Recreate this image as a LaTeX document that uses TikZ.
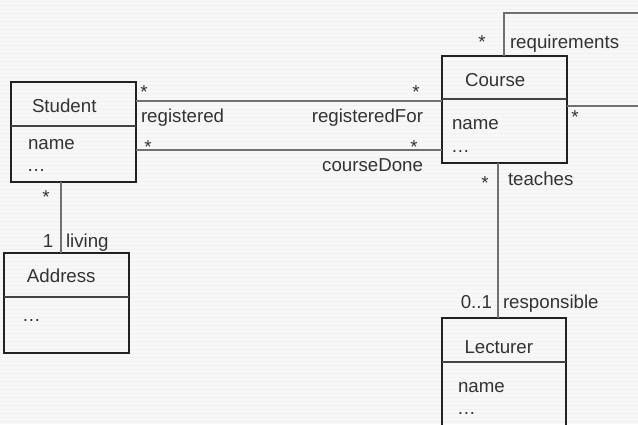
\documentclass[tikz,border=0pt]{standalone}
\usepackage{fontspec}
\setmainfont{Liberation Sans}
\definecolor{bg}{HTML}{F7F7F7}
\definecolor{stripe}{HTML}{F2F2F2}
\definecolor{txt}{HTML}{333333}
\definecolor{boxline}{HTML}{222222}
\definecolor{divline}{HTML}{444444}
\definecolor{connline}{HTML}{707070}
\tikzset{
  cls/.style={draw=boxline, line width=1.3pt, rectangle, inner sep=0pt, outer sep=0pt, minimum width=125pt},
  divider/.style={draw=divline, line width=1.2pt},
  conn/.style={draw=connline, line width=1.3pt},
  lbl/.style={inner sep=0pt, outer sep=0pt, text=txt, font=\fontsize{18.7}{22}\selectfont},
}
\begin{document}
\begin{tikzpicture}[x=1pt,y=-1pt]
\useasboundingbox (0,0) rectangle (638,424);
\clip (0,0) rectangle (638,424);
\fill[bg] (0,0) rectangle (638,424);
\foreach \yy in {1,5,...,423} \draw[stripe, line width=1pt] (0,\yy) -- (638,\yy);

% class boxes
\node[cls, minimum height=100pt] (Student) at (73.5,132) {};
\node[cls, minimum height=107pt] (Course) at (504.5,109.5) {};
\node[cls, minimum height=100pt] (Address) at (66.5,303) {};
\node[cls, minimum width=124pt, minimum height=112pt] (Lecturer) at (504,374) {};

\draw[divider] (Student.west |- 0,126) -- (Student.east |- 0,126);
\draw[divider] (Course.west |- 0,99) -- (Course.east |- 0,99);
\draw[divider] (Address.west |- 0,297) -- (Address.east |- 0,297);
\draw[divider] (Lecturer.west |- 0,362) -- (Lecturer.east |- 0,362);

% connectors
\draw[conn] (Student.east |- 0,101) -- (Course.west |- 0,101);
\draw[conn] (Student.east |- 0,150) -- (Course.west |- 0,150);
\draw[conn] (Student.south -| 61,0) -- (Address.north -| 61,0);
\draw[conn] (Course.south -| 498,0) -- (Lecturer.north -| 498,0);
\draw[conn] (Course.north -| 504,0) |- (660,13) |- (Course.east |- 0,106);

% box texts
\node[lbl, anchor=base west] (tStudent) at (32,112) {Student};
\node[lbl, anchor=base west] (tStudentA) at (28,149) {name};
\node[lbl, anchor=base west] (tStudentB) at (27,171) {…};
\node[lbl, anchor=base west] (tCourse) at (465,86) {Course};
\node[lbl, anchor=base west] (tCourseA) at (452,129) {name};
\node[lbl, anchor=base west] (tCourseB) at (451,152) {…};
\node[lbl, anchor=base west] (tAddress) at (27,282) {Address};
\node[lbl, anchor=base west] (tAddressB) at (22,321) {…};
\node[lbl, anchor=base west] (tLecturer) at (464.5,353) {Lecturer};
\node[lbl, anchor=base west] (tLecturerA) at (458,392) {name};
\node[lbl, anchor=base west] (tLecturerB) at (457,414) {…};

% association labels
\node[lbl, anchor=base] (m1) at (144,98) {*};
\node[lbl, anchor=base west] (r1) at (141,122) {registered};
\node[lbl, anchor=base] (m2) at (148,153) {*};
\node[lbl, anchor=base] (m3) at (416,98) {*};
\node[lbl, anchor=base east] (r2) at (423,122) {registeredFor};
\node[lbl, anchor=base] (m4) at (414,153) {*};
\node[lbl, anchor=base east] (r3) at (423,171) {courseDone};
\node[lbl, anchor=base] (m5) at (46,203) {*};
\node[lbl, anchor=base] (m6) at (48,247) {1};
\node[lbl, anchor=base west] (r4) at (66,247) {living};
\node[lbl, anchor=base] (m7) at (482,48) {*};
\node[lbl, anchor=base west] (r5) at (510,48) {requirements};
\node[lbl, anchor=base] (m8) at (575,123) {*};
\node[lbl, anchor=base] (m9) at (485,189) {*};
\node[lbl, anchor=base west] (r6) at (508,185) {teaches};
\node[lbl, anchor=base east] (m10) at (492,308) {0..1};
\node[lbl, anchor=base west] (r7) at (503,308) {responsible};
\end{tikzpicture}
\end{document}
